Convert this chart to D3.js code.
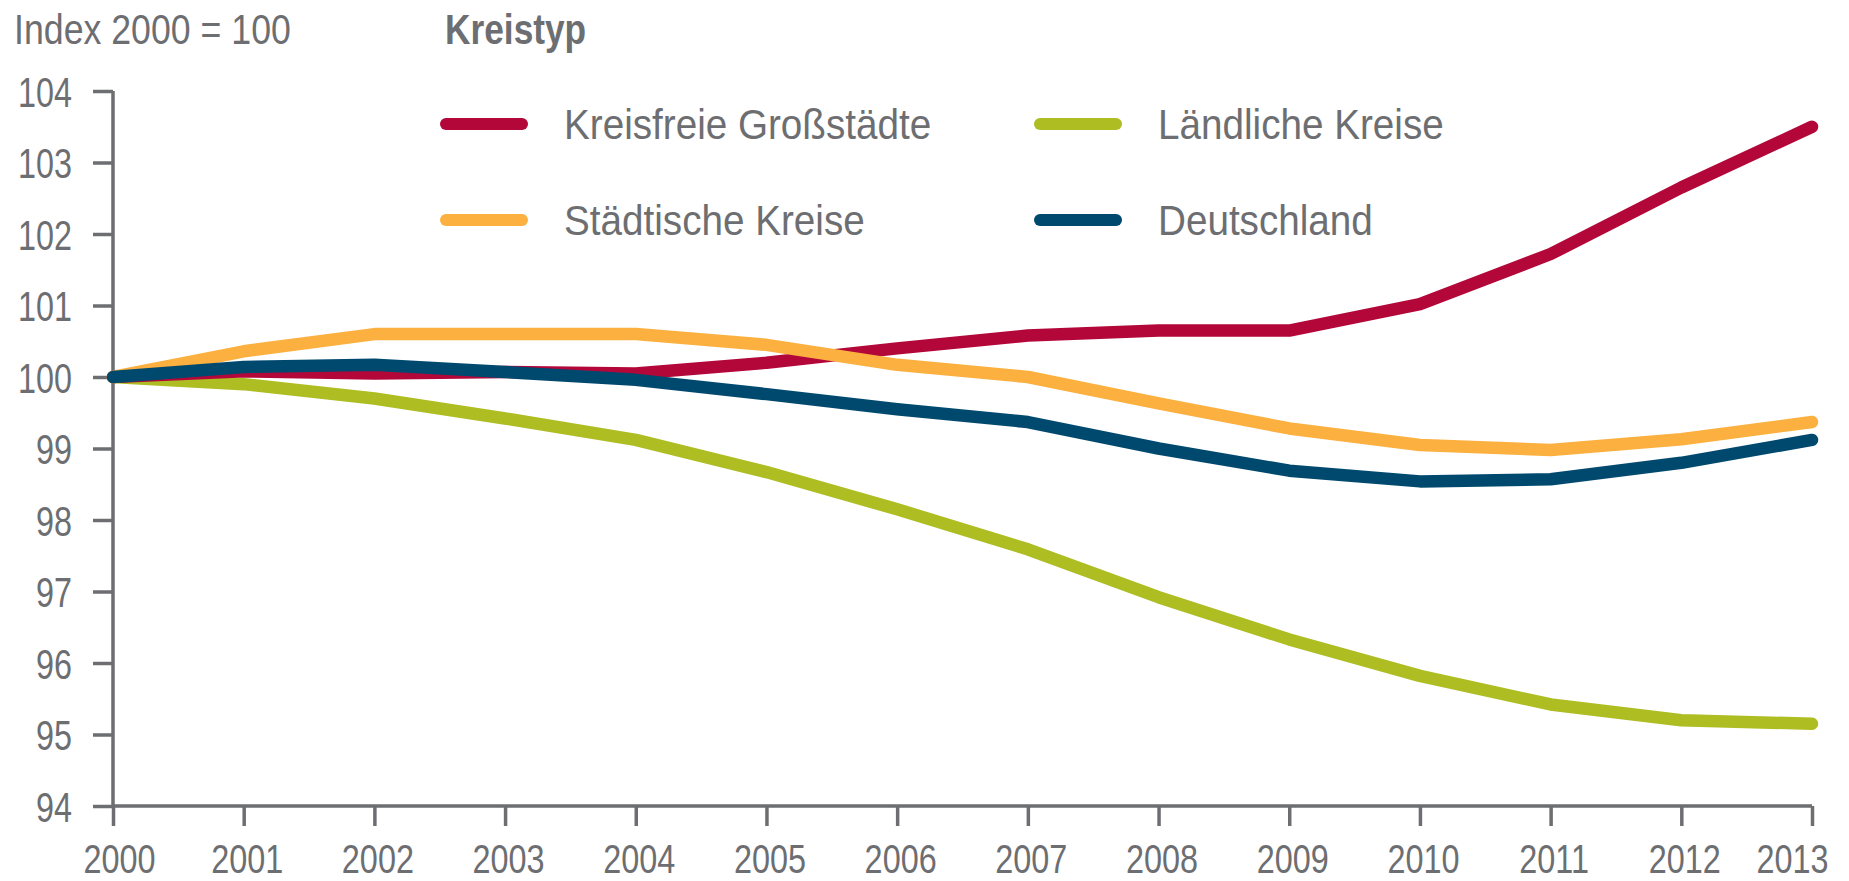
<!DOCTYPE html>
<html><head><meta charset="utf-8">
<script src="https://cdn.jsdelivr.net/npm/d3@7"></script>
<style>
html,body{margin:0;padding:0;background:#fff;}
text{font-family:"Liberation Sans",Arial,sans-serif;fill:#6d6e71;}
</style></head>
<body><svg id="chart" width="1849" height="881"></svg>
<script>
const years = [2000,2001,2002,2003,2004,2005,2006,2007,2008,2009,2010,2011,2012,2013];
const yTicks = [94,95,96,97,98,99,100,101,102,103,104];
const seriesNames = ["Kreisfreie Großstädte","Städtische Kreise","Ländliche Kreise","Deutschland"];
const grossstaedte = [100,100.08,100.05,100.07,100.05,100.2,100.4,100.58,100.65,100.65,101.02,101.72,102.65,103.5];
const staedtisch   = [100,100.36,100.6,100.6,100.6,100.45,100.17,100.0,99.63,99.28,99.05,98.98,99.13,99.37];
const laendlich    = [100,99.9,99.7,99.42,99.12,98.67,98.15,97.59,96.92,96.33,95.82,95.42,95.2,95.15];
const deutschland  = [100,100.14,100.17,100.07,99.96,99.76,99.55,99.37,99.0,98.69,98.54,98.57,98.8,99.12];
const colors = {"Kreisfreie Großstädte":"#b3073a","Städtische Kreise":"#fbb040","Ländliche Kreise":"#adbd22","Deutschland":"#00496e"};
const values = {"Kreisfreie Großstädte":grossstaedte,"Städtische Kreise":staedtisch,"Ländliche Kreise":laendlich,"Deutschland":deutschland};
const drawOrder = ["Ländliche Kreise","Kreisfreie Großstädte","Städtische Kreise","Deutschland"];

const svg = d3.select("#chart");
const x = d3.scaleLinear().domain([2000,2013]).range([113,1812]);
const y = d3.scaleLinear().domain([94,104]).range([806,91]);
const gray = "#6d6e71";

function condense(sel, k){
  sel.each(function(){
    const w = this.getComputedTextLength();
    d3.select(this).attr("textLength", w*k).attr("lengthAdjust","spacingAndGlyphs");
  });
}

// Y axis
const gy = svg.append("g").attr("transform","translate(113,0)")
  .call(d3.axisLeft(y).tickValues(yTicks).tickSize(20).tickPadding(21).tickFormat(d3.format("d")));
gy.select(".domain").attr("stroke",gray).attr("stroke-width",3.5).attr("d","M0,806V91");
gy.selectAll(".tick line").attr("stroke",gray).attr("stroke-width",3.5);
gy.selectAll(".tick text").style("font-size","42px").attr("fill",gray).attr("dy","0.36em");
condense(gy.selectAll(".tick text"), 0.77);

// X axis
const gx = svg.append("g").attr("transform","translate(0,806)")
  .call(d3.axisBottom(x).tickValues(years).tickSize(20).tickPadding(0).tickFormat(d3.format("d")));
gx.select(".domain").attr("stroke",gray).attr("stroke-width",3.5).attr("d","M113,0H1812");
gx.selectAll(".tick line").attr("stroke",gray).attr("stroke-width",3.5);
gx.selectAll(".tick text").style("font-size","40px").attr("fill",gray)
  .attr("y",67).attr("dy",null)
  .attr("dx",(d,i)=> i===0 ? 6 : 3);
condense(gx.selectAll(".tick text"), 0.81);
gx.selectAll(".tick text").filter(d=>d===years[years.length-1])
  .attr("text-anchor","end").attr("dx",16);

// Lines
const line = d3.line().x((d,i)=>x(years[i])).y(d=>y(d));
drawOrder.forEach(name=>{
  svg.append("path").datum(values[name]).attr("d",line)
    .attr("fill","none").attr("stroke",colors[name]).attr("stroke-width",12.5)
    .attr("stroke-linecap","round").attr("stroke-linejoin","round");
});

// Titles
const t1 = svg.append("text").attr("x",14).attr("y",44).style("font-size","42px").text("Index 2000 = 100");
condense(t1, 0.85);
const t2 = svg.append("text").attr("x",445).attr("y",44).style("font-size","42px").style("font-weight","bold").text("Kreistyp");
condense(t2, 0.84);

// Legend
const legendPos = [
  {name:"Kreisfreie Großstädte", lx:440, ly:124},
  {name:"Ländliche Kreise", lx:1034, ly:124},
  {name:"Städtische Kreise", lx:440, ly:220},
  {name:"Deutschland", lx:1034, ly:220}
];
legendPos.forEach(p=>{
  svg.append("line").attr("x1",p.lx+6).attr("x2",p.lx+82).attr("y1",p.ly).attr("y2",p.ly)
    .attr("stroke",colors[p.name]).attr("stroke-width",12).attr("stroke-linecap","round");
  const t = svg.append("text").attr("x",p.lx+124).attr("y",p.ly).attr("dy","0.36em")
    .style("font-size","42px").text(p.name);
  condense(t, 0.92);
});
</script></body></html>
